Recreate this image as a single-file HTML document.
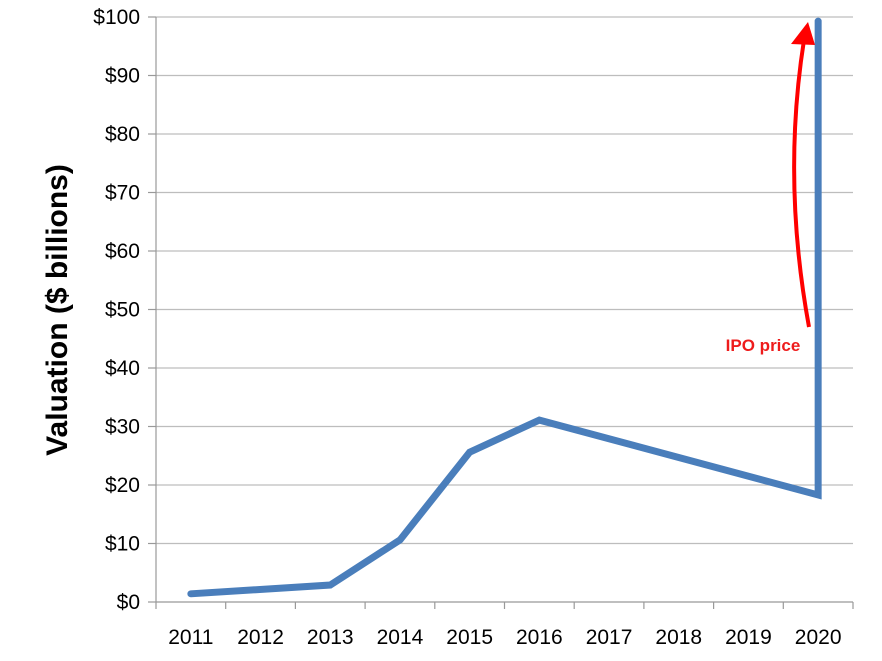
<!DOCTYPE html>
<html><head><meta charset="utf-8"><style>
body{margin:0;background:#fff;}
svg{display:block;font-family:"Liberation Sans",Calibri,sans-serif;}
</style></head><body>
<svg id="chart" width="882" height="661"></svg>
<script>
const categories=["2011","2012","2013","2014","2015","2016","2017","2018","2019","2020"];
const values=[1.4,null,2.9,10.6,25.6,31.1,null,null,null,18.3];
const ipoValue=[99.3];
const yTicks=[0,10,20,30,40,50,60,70,80,90,100];
const NS="http://www.w3.org/2000/svg";
const svg=document.getElementById('chart');
const L=156,R=853,T=17,B=602;
const bw=(R-L)/categories.length;
const x=i=>L+bw*(i+0.5);
const y=v=>B-(v/100)*(B-T);
function mk(t,a,p){const e=document.createElementNS(NS,t);for(const k in a)e.setAttribute(k,a[k]);(p||svg).appendChild(e);return e;}
const grid=mk('g',{});


yTicks.forEach(v=>{
  if(v>0){const g=mk('line',{x1:L,x2:R,y1:y(v),y2:y(v),stroke:'#bdbdbd','stroke-width':1.2},grid);
  
  }
  mk('line',{x1:L-8,x2:L,y1:y(v),y2:y(v),stroke:'#999','stroke-width':1.2});
  const t=mk('text',{x:L-16,y:y(v)+7,'text-anchor':'end','font-size':21,fill:'#000'});
  t.textContent='$'+v;
  
  
});
mk('line',{x1:L,x2:L,y1:T,y2:B,stroke:'#999','stroke-width':1.2});
mk('line',{x1:L,x2:R,y1:B,y2:B,stroke:'#999','stroke-width':1.2});
for(let i=0;i<=categories.length;i++)mk('line',{x1:L+bw*i,x2:L+bw*i,y1:B,y2:B+7,stroke:'#999','stroke-width':1.2});
categories.forEach((c,i)=>{
  const t=mk('text',{x:x(i),y:644,'text-anchor':'middle','font-size':21,fill:'#000'});
  t.textContent=c;
  
  
});
const yt=mk('text',{transform:'translate(67,310) rotate(-90)','text-anchor':'middle','font-size':30,'font-weight':'bold',fill:'#000'});
yt.textContent='Valuation ($ billions)';


let pts=[];
values.forEach((v,i)=>{if(v!==null)pts.push([x(i),y(v)]);});
pts.push([x(categories.length-1),y(ipoValue[0])]);
const line=mk('polyline',{points:pts.map(p=>p.join(',')).join(' '),fill:'none',stroke:'#4a7ebb','stroke-width':7,'stroke-linejoin':'miter','stroke-linecap':'round'});


const arr=mk('path',{d:'M809,327 Q782,180 804,40',fill:'none',stroke:'#ff0000','stroke-width':4});


const head=mk('polygon',{points:'808,22 791,44 815,45',fill:'#ff0000'});


const lab=mk('text',{x:763,y:351,'text-anchor':'middle','font-size':17,'font-weight':'bold',fill:'#ee1c1c'});
lab.textContent='IPO price';


</script>
</body></html>
